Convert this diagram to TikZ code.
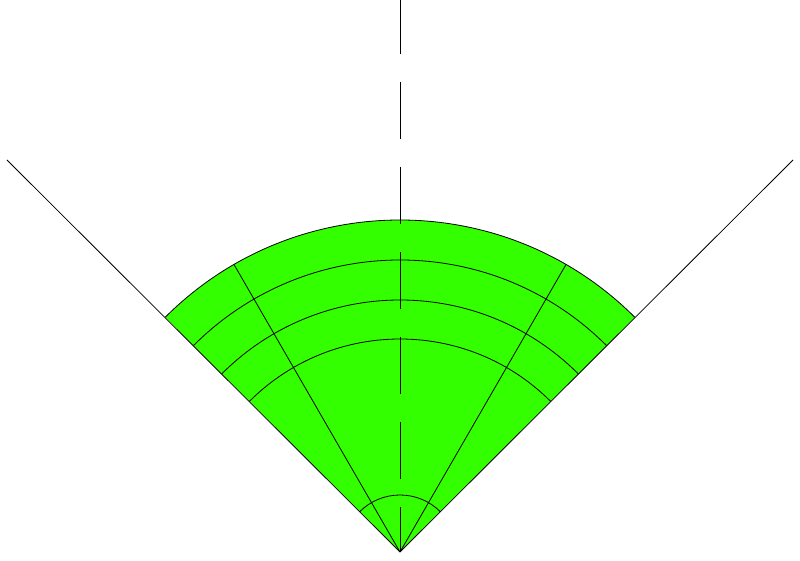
\documentclass[tikz,border=0pt]{standalone}
\definecolor{sectorgreen}{RGB}{51,255,0}
\begin{document}
\begin{tikzpicture}[x=1pt,y=1pt,
  thinline/.style={black,line width=0.8pt},
  axisline/.style={black,line width=0.9pt,dash pattern=on 57pt off 28pt}]
\useasboundingbox (0,0) rectangle (800,560);
\coordinate (O) at (400,8);
\coordinate (L) at (7,400);
\coordinate (R) at (793,400);
% green sector
\fill[sectorgreen] (O) -- ++(45:332) arc (45:135:332) -- cycle;
% outer rays
\draw[thinline] (O) -- (L);
\draw[thinline] (O) -- (R);
% outer arc
\draw[thinline] (O) ++(45:332) arc (45:135:332);
% inner arcs
\draw[thinline] (O) ++(45:292) arc (45:135:292);
\draw[thinline] (O) ++(45:252) arc (45:135:252);
\draw[thinline] (O) ++(45:213) arc (45:135:213);
\draw[thinline] (O) ++(45:57) arc (45:135:57);
% radial lines
\draw[thinline] (O) -- ++(60:332);
\draw[thinline] (O) -- ++(120:332);
% dashed axis
\coordinate (T) at (400,563);
\draw[axisline] (T) -- (O);
\end{tikzpicture}
\end{document}
